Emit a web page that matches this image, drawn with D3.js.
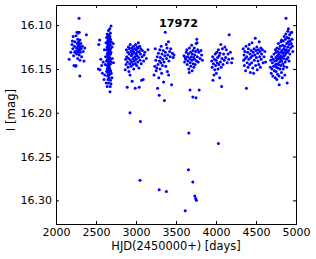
<!DOCTYPE html>
<html>
<head>
<meta charset="utf-8">
<script src="https://cdn.jsdelivr.net/npm/d3@7"></script>
<style>
  body { margin: 0; background: #fff; }
  text { font-family: "DejaVu Sans", sans-serif; }
</style>
</head>
<body>
<div id="chart"></div>
<script>
// light curve of star 17972, one array of [HJD-2450000, I mag] per observing season
var season1 = [[2165,16.139],[2185,16.131],[2200,16.122],[2205,16.118],[2210,16.127],[2215,16.113],[2220,16.135],[2225,16.146],[2230,16.124],[2235,16.119],[2240,16.130],[2245,16.147],[2250,16.112],[2255,16.126],[2258,16.133],[2262,16.108],[2265,16.121],[2268,16.129],[2270,16.138],[2272,16.116],[2275,16.124],[2278,16.109],[2280,16.131],[2283,16.119],[2285,16.127],[2288,16.092],[2290,16.134],[2292,16.122],[2295,16.128],[2298,16.158],[2300,16.117],[2302,16.125],[2305,16.131],[2310,16.121],[2315,16.127],[2320,16.136],[2330,16.124],[2340,16.130],[2350,16.141],[2360,16.126],[2380,16.111],[2250,16.146],[2235,16.131],[2290,16.108],[2300,16.140]];

var season2 = [[2530,16.150],[2535,16.122],[2545,16.117],[2550,16.151],[2560,16.139],[2570,16.146],[2580,16.155],[2590,16.142],[2600,16.162],[2605,16.128],[2610,16.157],[2615,16.145],[2620,16.136],[2625,16.120],[2628,16.166],
  [2632,16.114],[2635,16.128],[2630,16.141],[2633,16.153],
  [2640,16.110],[2642,16.119],[2638,16.125],[2641,16.133],[2643,16.139],[2639,16.146],[2640,16.150],[2644,16.158],[2641,16.170],
  [2648,16.112],[2650,16.117],[2646,16.122],[2649,16.127],[2651,16.131],[2647,16.135],[2648,16.140],[2652,16.144],[2649,16.149],[2646,16.154],[2650,16.162],
  [2656,16.106],[2658,16.115],[2655,16.120],[2657,16.124],[2659,16.129],[2654,16.133],[2656,16.137],[2660,16.142],[2657,16.146],[2655,16.151],[2658,16.157],[2656,16.166],
  [2664,16.111],[2666,16.116],[2662,16.121],[2665,16.126],[2667,16.130],[2663,16.134],[2664,16.138],[2668,16.143],[2665,16.148],[2662,16.153],[2666,16.160],
  [2672,16.104],[2674,16.113],[2670,16.118],[2673,16.123],[2675,16.128],[2671,16.132],[2672,16.137],[2676,16.141],[2673,16.145],[2670,16.150],[2674,16.156],[2675,16.176],
  [2680,16.109],[2682,16.116],[2678,16.122],[2681,16.127],[2683,16.133],[2679,16.139],[2680,16.144],[2684,16.152],[2681,16.163],[2678,16.170],
  [2688,16.101],[2690,16.119],[2686,16.131],[2689,16.142],[2691,16.155],[2687,16.167],
  [2700,16.125],[2700,16.160],[2705,16.138],[2715,16.121],[2718,16.143]];

var season3 = [[2865,16.151],[2870,16.139],[2875,16.145],[2880,16.128],[2885,16.136],[2890,16.171],[2893,16.142],[2897,16.131],[2900,16.148],[2905,16.125],[2908,16.138],[2912,16.153],[2915,16.133],[2918,16.127],[2922,16.144],[2925,16.157],[2928,16.122],[2932,16.140],[2935,16.130],[2938,16.147],[2942,16.135],[2945,16.126],[2948,16.142],[2952,16.164],[2955,16.133],[2958,16.129],[2962,16.145],[2965,16.138],[2968,16.124],[2972,16.150],[2975,16.131],[2978,16.141],[2982,16.127],[2985,16.136],[2990,16.172],[2992,16.144],[2995,16.122],[2998,16.133],[3002,16.139],[3005,16.128],[3008,16.146],[3012,16.125],[3015,16.135],[3018,16.131],[3022,16.142],[3025,16.126],[3030,16.120],[3033,16.137],[3036,16.149],[3040,16.171],[3043,16.130],[3046,16.124],[3050,16.140],[3055,16.133],[3060,16.127],[3065,16.144],[3070,16.163],[3075,16.136],[3080,16.129],[3090,16.162],[3095,16.141],[3100,16.134],[3110,16.131],[3130,16.138],[3150,16.128],
  [2925,16.200],[3055,16.210],[3050,16.277]];

var season4 = [[3225,16.157],[3235,16.147],[3240,16.127],[3248,16.140],[3252,16.152],[3260,16.149],[3265,16.136],[3270,16.172],[3275,16.145],[3280,16.132],[3285,16.160],[3290,16.180],[3293,16.141],[3297,16.128],[3300,16.150],[3305,16.137],[3310,16.143],[3315,16.124],[3320,16.155],[3325,16.133],[3330,16.146],[3335,16.139],[3340,16.129],[3345,16.165],[3350,16.142],[3355,16.186],[3360,16.135],[3365,16.108],[3368,16.131],[3372,16.147],[3378,16.122],[3382,16.138],[3388,16.126],[3392,16.153],[3398,16.134],[3405,16.119],[3408,16.157],[3412,16.141],[3420,16.130],[3428,16.136],[3435,16.127],[3445,16.168],[3455,16.132],[3465,16.137],[3475,16.134],
  [3290,16.288],[3380,16.290]];

var season5 = [[3600,16.135],[3608,16.142],[3615,16.137],[3622,16.139],[3628,16.131],[3635,16.128],[3640,16.145],[3645,16.136],[3650,16.141],[3655,16.133],[3660,16.150],[3665,16.154],[3668,16.126],[3672,16.138],[3675,16.174],[3678,16.143],[3682,16.131],[3685,16.147],[3690,16.136],[3695,16.123],[3698,16.140],[3702,16.152],[3705,16.133],[3710,16.182],[3712,16.129],[3716,16.144],[3720,16.137],[3724,16.148],[3728,16.126],[3732,16.139],[3736,16.134],[3740,16.145],[3745,16.130],[3750,16.183],[3752,16.121],[3756,16.141],[3760,16.116],[3763,16.120],[3767,16.136],[3772,16.128],[3778,16.142],[3785,16.131],[3790,16.174],[3800,16.138],[3812,16.129],[3820,16.134],[3830,16.140],
  [3660,16.223],[3655,16.265],[3710,16.279],[3735,16.295],[3745,16.298],[3755,16.300],[3615,16.312]];

var season6 = [[3945,16.141],[3952,16.148],[3958,16.136],[3962,16.163],[3968,16.144],[3975,16.157],[3980,16.139],[3985,16.151],[3990,16.133],[3995,16.146],[4000,16.140],[4005,16.155],[4010,16.131],[4015,16.143],[4020,16.137],[4025,16.150],[4030,16.128],[4035,16.145],[4040,16.135],[4045,16.160],[4050,16.132],[4055,16.142],[4060,16.122],[4065,16.148],[4070,16.170],[4075,16.138],[4080,16.127],[4088,16.145],[4095,16.133],[4102,16.140],[4110,16.125],[4120,16.137],[4130,16.128],[4140,16.143],[4150,16.133],[4160,16.139],[4165,16.111],[4180,16.131],[4195,16.143],[4205,16.138],
  [4030,16.235]];

var season7 = [[4340,16.127],[4345,16.140],[4350,16.134],[4355,16.146],[4360,16.130],[4365,16.138],[4370,16.152],[4375,16.124],[4380,16.172],[4385,16.136],[4390,16.143],[4395,16.131],[4400,16.148],[4405,16.127],[4410,16.139],[4415,16.122],[4420,16.145],[4425,16.133],[4430,16.154],[4435,16.137],[4440,16.129],[4445,16.143],[4450,16.120],[4455,16.135],[4460,16.149],[4465,16.131],[4470,16.155],[4475,16.127],[4480,16.140],[4485,16.134],[4490,16.115],[4495,16.146],[4500,16.129],[4505,16.137],[4510,16.125],[4515,16.151],[4520,16.132],[4525,16.141],[4530,16.128],[4535,16.145],[4540,16.119],[4545,16.136],[4550,16.130],[4555,16.148],[4560,16.126],[4565,16.139],[4570,16.133],[4580,16.128],[4590,16.143],[4600,16.136],[4610,16.130],[4620,16.142]];

var season8 = [[4680,16.148],[4685,16.140],[4690,16.155],[4695,16.136],[4700,16.150],[4705,16.143],[4710,16.158],[4715,16.139],[4720,16.147],[4725,16.133],[4730,16.152],[4735,16.141],[4740,16.160],[4742,16.128],[4745,16.145],[4748,16.137],[4750,16.153],[4752,16.131],[4755,16.148],[4758,16.140],[4760,16.162],[4762,16.126],[4765,16.144],[4768,16.135],[4770,16.156],[4772,16.130],[4775,16.149],[4778,16.138],[4780,16.121],[4782,16.145],[4785,16.133],[4788,16.158],[4790,16.168],[4792,16.127],[4795,16.142],[4798,16.136],[4800,16.150],[4802,16.124],[4805,16.139],[4808,16.131],[4810,16.146],[4812,16.119],[4815,16.135],[4818,16.154],[4820,16.117],[4822,16.141],[4825,16.129],[4828,16.160],[4830,16.137],[4832,16.123],[4835,16.144],[4838,16.132],[4840,16.150],[4842,16.118],[4845,16.138],[4848,16.127],[4850,16.147],[4852,16.113],[4855,16.135],[4858,16.124],[4860,16.157],[4862,16.130],[4865,16.142],[4868,16.116],[4870,16.133],[4872,16.110],[4875,16.092],[4878,16.128],[4880,16.139],[4882,16.121],[4885,16.148],[4888,16.114],[4890,16.166],[4892,16.131],[4895,16.125],[4898,16.107],[4900,16.137],[4903,16.119],[4905,16.104],[4908,16.129],[4910,16.115],[4913,16.141],[4916,16.122],[4920,16.111],[4923,16.133],[4926,16.118],[4930,16.126],[4935,16.109],[4940,16.121],[4945,16.108],[4950,16.116],[4955,16.124],[4960,16.130]];

var xTicks = [2000, 2500, 3000, 3500, 4000, 4500, 5000];
var yTicks = [16.10, 16.15, 16.20, 16.25, 16.30];
var title = "17972";

var svgWidth = 316;
var svgHeight = 259;

var margin = {
  top: 5,
  right: 20,
  bottom: 35,
  left: 56
};

var width = svgWidth - margin.left - margin.right;
var height = svgHeight - margin.top - margin.bottom;

var svg = d3.select("#chart")
  .append("svg")
  .attr("width", svgWidth)
  .attr("height", svgHeight);

var chartGroup = svg.append("g")
  .attr("transform", `translate(${margin.left}, ${margin.top})`);

// magnitudes: brighter (smaller) at the top
var xLinearScale = d3.scaleLinear().domain([2000, 5000]).range([0, width]);
var yLinearScale = d3.scaleLinear().domain([16.077, 16.327]).range([0, height]);

var allPoints = [].concat(season1, season2, season3, season4, season5, season6, season7, season8);

chartGroup.append("g")
  .selectAll("circle")
  .data(allPoints)
  .enter()
  .append("circle")
  .attr("cx", d => xLinearScale(d[0]))
  .attr("cy", d => yLinearScale(d[1]))
  .attr("r", 1.5)
  .attr("fill", "#0000ff");

// ticks pointing inward on all four sides
var bottomAxis = d3.axisBottom(xLinearScale).tickValues(xTicks).tickSize(-3).tickPadding(4)
  .tickFormat(d3.format("d"));
var topAxis = d3.axisTop(xLinearScale).tickValues(xTicks).tickSize(-3).tickFormat("");
var leftAxis = d3.axisLeft(yLinearScale).tickValues(yTicks).tickSize(-3).tickPadding(4)
  .tickFormat(d3.format(".2f"));
var rightAxis = d3.axisRight(yLinearScale).tickValues(yTicks).tickSize(-3).tickFormat("");

chartGroup.append("g")
  .attr("transform", `translate(0, ${height})`)
  .call(bottomAxis);
chartGroup.append("g").call(topAxis);
chartGroup.append("g").call(leftAxis);
chartGroup.append("g").attr("transform", `translate(${width}, 0)`).call(rightAxis);

chartGroup.selectAll(".domain").remove();
chartGroup.selectAll(".tick line").attr("stroke", "#000");
chartGroup.selectAll(".tick text")
  .attr("fill", "#000")
  .style("font-size", "11px");

chartGroup.append("rect")
  .attr("x", 0.5)
  .attr("y", 0.5)
  .attr("width", width)
  .attr("height", height)
  .attr("fill", "none")
  .attr("stroke", "#000")
  .attr("stroke-width", 1);

chartGroup.append("text")
  .attr("x", width / 2 + 2.5)
  .attr("y", 21.7)
  .attr("text-anchor", "middle")
  .style("font-size", "11.2px")
  .style("font-weight", "bold")
  .text(title);

// axis labels
chartGroup.append("text")
  .attr("x", width / 2)
  .attr("y", height + 26)
  .attr("text-anchor", "middle")
  .style("font-size", "11.4px")
  .text("HJD(2450000+) [days]");

chartGroup.append("text")
  .attr("transform", "rotate(-90)")
  .attr("x", 0 - 105)
  .attr("y", 0 - margin.left + 15)
  .attr("text-anchor", "middle")
  .style("font-size", "11.7px")
  .text("I [mag]");
</script>
</body>
</html>
